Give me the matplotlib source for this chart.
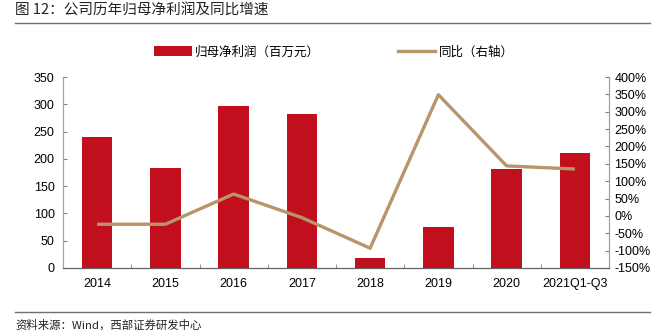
import numpy as np
import matplotlib.pyplot as plt
from matplotlib.lines import Line2D
from matplotlib.patches import Patch

plt.rcParams['font.family'] = ['Liberation Sans', 'Noto Sans CJK SC', 'DejaVu Sans']

categories = ['2014', '2015', '2016', '2017', '2018', '2019', '2020', '2021Q1-Q3']
profit = [240, 183, 297, 282, 18, 76, 182, 210]          # 归母净利润（百万元）
yoy = [-24, -24, 63, -5, -93, 349, 144, 135]             # 同比 %

left_ticks = np.arange(0, 351, 50)
right_ticks = np.arange(-150, 401, 50)

barColor = '#C20F1E'
lineColor = '#B8956A'
cjk = ['Noto Sans CJK SC', 'DejaVu Sans']

fig = plt.figure(figsize=(6.58, 3.36), dpi=100)
ax = fig.add_axes([63 / 658, 1 - 268 / 336, 546 / 658, 191 / 336])
ax2 = ax.twinx()

x = np.arange(len(categories))
ax.bar(x, profit, width=0.45, color=barColor, zorder=2)
ax2.plot(x, yoy, color=lineColor, linewidth=2.4, solid_capstyle='butt', zorder=3)

ax.set_xlim(-0.5, len(categories) - 0.5)
ax.set_ylim(0, 350)
ax2.set_ylim(-150, 400)
ax.set_yticks(left_ticks)
ax2.set_yticks(right_ticks)
ax2.set_yticklabels(['{}%'.format(v) for v in right_ticks])

ax.set_xticks(x)
ax.set_xticklabels(categories)
ax.set_xticks(np.arange(0.5, len(categories) - 0.5, 1), minor=True)
ax.tick_params(axis='x', which='major', length=0, pad=7, labelsize=9)
ax.tick_params(axis='x', which='minor', direction='in', length=3, color='#808080')
ax.tick_params(axis='y', direction='in', length=3, color='#808080', labelsize=9, pad=6)
ax2.tick_params(axis='y', direction='in', length=3, color='#808080', labelsize=9, pad=4)

for a in (ax, ax2):
    a.spines['top'].set_visible(False)
    a.spines['left'].set_color('#A0A0A0')
    a.spines['right'].set_color('#A0A0A0')
    a.spines['bottom'].set_color('#606060')
ax.set_zorder(ax2.get_zorder() - 1)
ax2.patch.set_visible(False)

# legend
handles = [Patch(facecolor=barColor, edgecolor='none'),
           Line2D([0], [0], color=lineColor, linewidth=2.4)]
leg = fig.legend(handles, ['归母净利润（百万元）', '同比（右轴）'], loc='center',
                 bbox_to_anchor=(334 / 658, 1 - 52 / 336), ncol=2, frameon=False,
                 prop={'family': cjk, 'size': 9}, handlelength=3.0,
                 handleheight=0.8, handletextpad=0.3, columnspacing=6.2)

# title and source
fig.text(15 / 658, 1 - 11 / 336, '图 12：公司历年归母净利润及同比增速', family=cjk,
         fontsize=10.5, va='center', ha='left', color='#222222')
fig.add_artist(Line2D([15 / 658, 650 / 658], [1 - 23 / 336, 1 - 23 / 336],
                      color='#707070', linewidth=1))
fig.add_artist(Line2D([15 / 658, 650 / 658], [1 - 312 / 336, 1 - 312 / 336],
                      color='#707070', linewidth=1))
fig.text(15 / 658, 1 - 325 / 336, '资料来源：Wind，西部证券研发中心', family=cjk,
         fontsize=8.2, va='center', ha='left', color='#222222')

fig.savefig('out.png', dpi=100)
